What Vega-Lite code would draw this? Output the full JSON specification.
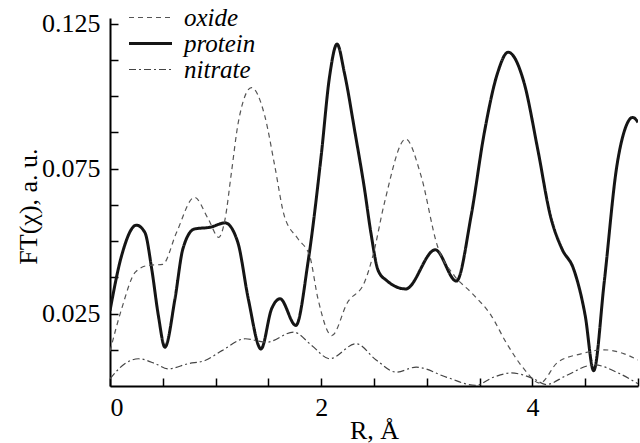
{
  "$schema": "https://vega.github.io/schema/vega-lite/v6.json",
  "width": 528,
  "height": 368,
  "autosize": {"type": "none"},
  "padding": {"left": 110, "top": 18, "right": 2, "bottom": 57},
  "background": "white",
  "config": {
    "view": {"stroke": null},
    "font": "Liberation Serif",
    "style": {
      "guide-label": {"font": "Liberation Serif", "fontSize": 26},
      "guide-title": {"font": "Liberation Serif"}
    },
    "legend": {"labelFont": "Liberation Serif", "titleFont": "Liberation Serif"},
    "axis": {
      "domainColor": "black",
      "domainWidth": 2,
      "tickColor": "black",
      "tickWidth": 1.5,
      "tickSize": -8,
      "grid": false,
      "labelFont": "Liberation Serif",
      "labelFontSize": 26,
      "labelColor": "black",
      "titleFont": "Liberation Serif",
      "titleFontSize": 26,
      "titleFontWeight": "normal",
      "titleColor": "black"
    }
  },
  "data": {
    "values": [
      {"r": 0.0, "v": 0.026, "s": "protein"},
      {"r": 0.11, "v": 0.045, "s": "protein"},
      {"r": 0.25, "v": 0.0555, "s": "protein"},
      {"r": 0.33, "v": 0.053, "s": "protein"},
      {"r": 0.395, "v": 0.0404, "s": "protein"},
      {"r": 0.458, "v": 0.0243, "s": "protein"},
      {"r": 0.52, "v": 0.0134, "s": "protein"},
      {"r": 0.615, "v": 0.030, "s": "protein"},
      {"r": 0.69, "v": 0.0473, "s": "protein"},
      {"r": 0.80, "v": 0.0542, "s": "protein"},
      {"r": 0.95, "v": 0.0548, "s": "protein"},
      {"r": 1.09, "v": 0.0563, "s": "protein"},
      {"r": 1.21, "v": 0.0496, "s": "protein"},
      {"r": 1.31, "v": 0.030, "s": "protein"},
      {"r": 1.43, "v": 0.0128, "s": "protein"},
      {"r": 1.53, "v": 0.0266, "s": "protein"},
      {"r": 1.61, "v": 0.0301, "s": "protein"},
      {"r": 1.76, "v": 0.0209, "s": "protein"},
      {"r": 1.875, "v": 0.0427, "s": "protein"},
      {"r": 2.0, "v": 0.0795, "s": "protein"},
      {"r": 2.08, "v": 0.107, "s": "protein"},
      {"r": 2.15, "v": 0.118, "s": "protein"},
      {"r": 2.22, "v": 0.108, "s": "protein"},
      {"r": 2.32, "v": 0.0875, "s": "protein"},
      {"r": 2.41, "v": 0.068, "s": "protein"},
      {"r": 2.47, "v": 0.053, "s": "protein"},
      {"r": 2.54, "v": 0.0398, "s": "protein"},
      {"r": 2.62, "v": 0.0364, "s": "protein"},
      {"r": 2.80, "v": 0.0335, "s": "protein"},
      {"r": 3.08, "v": 0.047, "s": "protein"},
      {"r": 3.28, "v": 0.0362, "s": "protein"},
      {"r": 3.42, "v": 0.0588, "s": "protein"},
      {"r": 3.545, "v": 0.0875, "s": "protein"},
      {"r": 3.67, "v": 0.108, "s": "protein"},
      {"r": 3.77, "v": 0.1152, "s": "protein"},
      {"r": 3.92, "v": 0.1048, "s": "protein"},
      {"r": 4.05, "v": 0.0818, "s": "protein"},
      {"r": 4.17, "v": 0.0588, "s": "protein"},
      {"r": 4.28, "v": 0.0473, "s": "protein"},
      {"r": 4.39, "v": 0.0404, "s": "protein"},
      {"r": 4.50, "v": 0.0243, "s": "protein"},
      {"r": 4.58, "v": 0.0053, "s": "protein"},
      {"r": 4.68, "v": 0.0358, "s": "protein"},
      {"r": 4.80, "v": 0.076, "s": "protein"},
      {"r": 4.88, "v": 0.089, "s": "protein"},
      {"r": 4.95, "v": 0.0927, "s": "protein"},
      {"r": 5.0, "v": 0.091, "s": "protein"},

      {"r": 0.0, "v": 0.012, "s": "oxide"},
      {"r": 0.11, "v": 0.0266, "s": "oxide"},
      {"r": 0.24, "v": 0.0393, "s": "oxide"},
      {"r": 0.36, "v": 0.0416, "s": "oxide"},
      {"r": 0.50, "v": 0.042, "s": "oxide"},
      {"r": 0.63, "v": 0.053, "s": "oxide"},
      {"r": 0.80, "v": 0.0651, "s": "oxide"},
      {"r": 0.93, "v": 0.0577, "s": "oxide"},
      {"r": 1.03, "v": 0.0513, "s": "oxide"},
      {"r": 1.09, "v": 0.0577, "s": "oxide"},
      {"r": 1.15, "v": 0.0737, "s": "oxide"},
      {"r": 1.215, "v": 0.091, "s": "oxide"},
      {"r": 1.34, "v": 0.103, "s": "oxide"},
      {"r": 1.465, "v": 0.0933, "s": "oxide"},
      {"r": 1.56, "v": 0.076, "s": "oxide"},
      {"r": 1.65, "v": 0.0588, "s": "oxide"},
      {"r": 1.78, "v": 0.0508, "s": "oxide"},
      {"r": 1.89, "v": 0.045, "s": "oxide"},
      {"r": 1.97, "v": 0.030, "s": "oxide"},
      {"r": 2.10, "v": 0.0174, "s": "oxide"},
      {"r": 2.25, "v": 0.0289, "s": "oxide"},
      {"r": 2.41, "v": 0.0358, "s": "oxide"},
      {"r": 2.49, "v": 0.045, "s": "oxide"},
      {"r": 2.60, "v": 0.0634, "s": "oxide"},
      {"r": 2.80, "v": 0.0852, "s": "oxide"},
      {"r": 2.945, "v": 0.0726, "s": "oxide"},
      {"r": 3.10, "v": 0.0484, "s": "oxide"},
      {"r": 3.26, "v": 0.0381, "s": "oxide"},
      {"r": 3.42, "v": 0.0323, "s": "oxide"},
      {"r": 3.61, "v": 0.0243, "s": "oxide"},
      {"r": 3.75, "v": 0.0151, "s": "oxide"},
      {"r": 3.92, "v": 0.0059, "s": "oxide"},
      {"r": 4.07, "v": 0.001, "s": "oxide"},
      {"r": 4.24, "v": 0.0082, "s": "oxide"},
      {"r": 4.46, "v": 0.0111, "s": "oxide"},
      {"r": 4.68, "v": 0.0125, "s": "oxide"},
      {"r": 4.87, "v": 0.0111, "s": "oxide"},
      {"r": 5.0, "v": 0.009, "s": "oxide"},

      {"r": 0.0, "v": 0.0025, "s": "nitrate"},
      {"r": 0.14, "v": 0.0077, "s": "nitrate"},
      {"r": 0.27, "v": 0.0094, "s": "nitrate"},
      {"r": 0.43, "v": 0.0077, "s": "nitrate"},
      {"r": 0.55, "v": 0.0059, "s": "nitrate"},
      {"r": 0.74, "v": 0.0077, "s": "nitrate"},
      {"r": 0.90, "v": 0.0088, "s": "nitrate"},
      {"r": 1.06, "v": 0.0122, "s": "nitrate"},
      {"r": 1.28, "v": 0.0163, "s": "nitrate"},
      {"r": 1.48, "v": 0.0151, "s": "nitrate"},
      {"r": 1.74, "v": 0.0186, "s": "nitrate"},
      {"r": 1.91, "v": 0.014, "s": "nitrate"},
      {"r": 2.08, "v": 0.0094, "s": "nitrate"},
      {"r": 2.33, "v": 0.0146, "s": "nitrate"},
      {"r": 2.52, "v": 0.009, "s": "nitrate"},
      {"r": 2.71, "v": 0.0048, "s": "nitrate"},
      {"r": 2.90, "v": 0.0065, "s": "nitrate"},
      {"r": 3.19, "v": 0.003, "s": "nitrate"},
      {"r": 3.46, "v": 0.0002, "s": "nitrate"},
      {"r": 3.63, "v": 0.003, "s": "nitrate"},
      {"r": 3.80, "v": 0.0045, "s": "nitrate"},
      {"r": 4.01, "v": 0.0025, "s": "nitrate"},
      {"r": 4.13, "v": 0.0005, "s": "nitrate"},
      {"r": 4.32, "v": 0.0036, "s": "nitrate"},
      {"r": 4.58, "v": 0.0073, "s": "nitrate"},
      {"r": 4.83, "v": 0.0042, "s": "nitrate"},
      {"r": 5.0, "v": 0.0008, "s": "nitrate"}
    ]
  },
  "mark": {"type": "line", "interpolate": "monotone", "clip": true},
  "encoding": {
    "x": {
      "field": "r",
      "type": "quantitative",
      "scale": {"domain": [0, 5], "nice": false, "zero": false},
      "axis": {
        "title": "R, Å",
        "values": [0, 0.5, 1, 1.5, 2, 2.5, 3, 3.5, 4, 4.5, 5],
        "labelExpr": "datum.value % 2 === 0 ? format(datum.value, 'd') : ''",
        "labelFont": "Liberation Serif",
        "labelFontSize": 26,
        "labelPadding": 16,
        "titleY": 52,
        "titleBaseline": "alphabetic"
      }
    },
    "y": {
      "field": "v",
      "type": "quantitative",
      "scale": {"domain": [0, 0.127], "nice": false, "zero": false},
      "axis": {
        "title": "FT(χ), a. u.",
        "values": [0.0125, 0.025, 0.0375, 0.05, 0.0625, 0.075, 0.0875, 0.1, 0.1125, 0.125],
        "labelExpr": "indexof([0.025, 0.075, 0.125], datum.value) >= 0 ? format(datum.value, '.3f') : ''",
        "labelFont": "Liberation Serif",
        "labelFontSize": 26,
        "labelPadding": 18,
        "titleX": -82,
        "titleY": 188,
        "titleBaseline": "middle",
        "titleAlign": "center"
      }
    },
    "color": {
      "field": "s",
      "type": "nominal",
      "scale": {"domain": ["oxide", "protein", "nitrate"], "range": ["#555555", "#151515", "#444444"]},
      "legend": {
        "title": null,
        "orient": "none",
        "legendX": 28,
        "legendY": -13,
        "symbolType": "stroke",
        "symbolSize": 1849,
        "labelFont": "Liberation Serif",
        "labelFontSize": 25,
        "labelFontStyle": "italic",
        "labelColor": "black",
        "labelOffset": 21,
        "rowPadding": -21,
        "encode": {
          "symbols": {"update": {"strokeWidth": {"signal": "datum.value === 'protein' ? 3 : 1.2"}}}
        }
      }
    },
    "strokeDash": {
      "field": "s",
      "type": "nominal",
      "scale": {"domain": ["oxide", "protein", "nitrate"], "range": [[5, 4], [1, 0], [7, 3, 2, 3]]},
      "legend": {
        "title": null,
        "orient": "none",
        "legendX": 28,
        "legendY": -13,
        "symbolType": "stroke",
        "symbolSize": 1849,
        "labelFont": "Liberation Serif",
        "labelFontSize": 25,
        "labelFontStyle": "italic",
        "labelColor": "black",
        "labelOffset": 21,
        "rowPadding": -21,
        "encode": {
          "symbols": {"update": {"strokeWidth": {"signal": "datum.value === 'protein' ? 3 : 1.2"}}}
        }
      }
    },
    "strokeWidth": {
      "condition": {"test": "datum.s === 'protein'", "value": 3},
      "value": 1.2
    }
  }
}
